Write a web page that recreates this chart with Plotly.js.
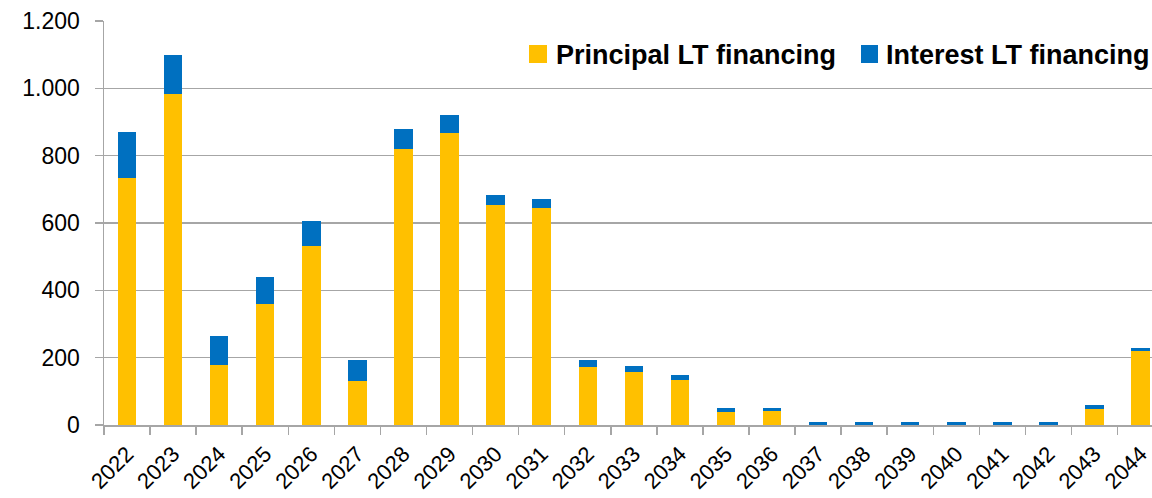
<!DOCTYPE html>
<html>
<head>
<meta charset="utf-8">
<script src="https://cdn.plot.ly/plotly-3.0.1.min.js"></script>
<style>
html,body{margin:0;padding:0;background:#fff;}
#chart{width:1152px;height:498px;}
</style>
</head>
<body>
<div id="chart"></div>
<script>
var years = ["2022","2023","2024","2025","2026","2027","2028","2029","2030","2031","2032","2033","2034","2035","2036","2037","2038","2039","2040","2041","2042","2043","2044"];
var principal = [733, 983, 179, 360, 533, 132, 821, 866, 653, 645, 173, 158, 135, 40, 41, 0, 0, 0, 0, 0, 0, 48, 221];
var interest  = [137, 116, 85, 80, 72, 60, 57, 54, 29, 26, 21, 17, 14, 10, 9, 8, 8, 8, 8, 8, 8, 10, 7];
var seriesNames = ["Principal LT financing", "Interest LT financing"];
var seriesColors = ["#FFC000", "#0070C0"];

var traces = [
  {type:"bar", name:seriesNames[0], x:years, y:principal, marker:{color:seriesColors[0]}, showlegend:false, hoverinfo:"x+y+name"},
  {type:"bar", name:seriesNames[1], x:years, y:interest, marker:{color:seriesColors[1]}, showlegend:false, hoverinfo:"x+y+name"}
];

var L = 104, R = 1152, T = 21, B = 425;
function px(x){ return (x - L) / (R - L); }
function py(y){ return (B - y) / (B - T); }

var legendFont = {family:"Liberation Sans, Arial, sans-serif", size:27, color:"#000"};
var shapes = [
  {type:"rect", xref:"paper", yref:"paper", x0:px(529), x1:px(547), y0:py(63), y1:py(45), fillcolor:seriesColors[0], line:{width:0}},
  {type:"rect", xref:"paper", yref:"paper", x0:px(861), x1:px(878), y0:py(63), y1:py(45), fillcolor:seriesColors[1], line:{width:0}}
];
var annotations = [
  {xref:"paper", yref:"paper", x:px(554), y:py(55), xanchor:"left", yanchor:"middle", text:"<b>" + seriesNames[0] + "</b>", showarrow:false, font:legendFont},
  {xref:"paper", yref:"paper", x:px(884), y:py(55), xanchor:"left", yanchor:"middle", text:"<b>" + seriesNames[1] + "</b>", showarrow:false, font:legendFont}
];

var layout = {
  width:1152, height:498,
  margin:{l:L, r:0, t:T, b:498-B, pad:0},
  paper_bgcolor:"#fff", plot_bgcolor:"#fff",
  barmode:"stack", bargap:0.6,
  separators:",.",
  font:{family:"Liberation Sans, Arial, sans-serif", size:23, color:"#000"},
  xaxis:{
    type:"category", range:[-0.5, 22.5 - 11.6/46.07],
    tickson:"boundaries", ticks:"outside", ticklen:8, tickcolor:"#A6A6A6", tickwidth:1.5,
    showline:true, linecolor:"#A6A6A6", linewidth:1.5,
    showgrid:false, tickangle:-45, tickfont:{size:22}, ticklabelstandoff:6,
    fixedrange:true
  },
  yaxis:{
    range:[0,1200], dtick:200, tick0:0, tickformat:",d",
    ticks:"outside", ticklen:8, tickcolor:"#A6A6A6", tickwidth:1.5,
    showline:true, linecolor:"#A6A6A6", linewidth:1.5,
    showgrid:true, gridcolor:"#A6A6A6", gridwidth:1.5,
    zeroline:false, tickfont:{size:23}, ticklabelstandoff:10,
    fixedrange:true
  },
  shapes:shapes,
  annotations:annotations,
  showlegend:false
};
Plotly.newPlot("chart", traces, layout, {displayModeBar:false, staticPlot:true});
</script>
</body>
</html>
